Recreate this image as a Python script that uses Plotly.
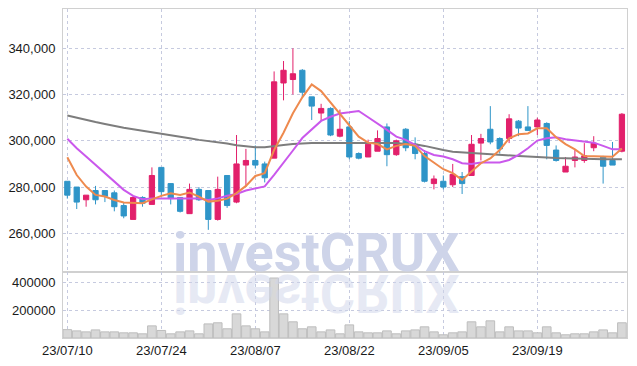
import plotly.graph_objects as go
from plotly.subplots import make_subplots

dates = [
    "23/07/10", "23/07/11", "23/07/12", "23/07/13", "23/07/14", "23/07/17", "23/07/18", "23/07/19", "23/07/20", "23/07/21",
    "23/07/24", "23/07/25", "23/07/26", "23/07/27", "23/07/28", "23/07/31", "23/08/01", "23/08/02", "23/08/03", "23/08/04",
    "23/08/07", "23/08/08", "23/08/09", "23/08/10", "23/08/11", "23/08/14", "23/08/16", "23/08/17", "23/08/18", "23/08/21",
    "23/08/22", "23/08/23", "23/08/24", "23/08/25", "23/08/28", "23/08/29", "23/08/30", "23/08/31", "23/09/01", "23/09/04",
    "23/09/05", "23/09/06", "23/09/07", "23/09/08", "23/09/11", "23/09/12", "23/09/13", "23/09/14", "23/09/15", "23/09/18",
    "23/09/19", "23/09/20", "23/09/21", "23/09/22", "23/09/25", "23/09/26", "23/09/27", "23/10/04", "23/10/05", "23/10/06",
]

opens = [282500, 280000, 274500, 278500, 278500, 277500, 272000, 266000, 275500, 272500,
         288500, 281500, 275500, 268500, 279000, 278500, 266000, 285000, 273500, 289500,
         291500, 290000, 292500, 325000, 326500, 330500, 319000, 312000, 314000, 302000,
         306000, 294500, 293000, 295500, 306000, 294000, 305000, 298500, 294500, 281500,
         282500, 281000, 284500, 285000, 299000, 305000, 301000, 301000, 308500, 306000,
         306000, 307500, 296000, 286500, 291500, 291500, 297000, 293000, 291500, 295500]
highs = [282500, 280000, 276500, 280500, 278500, 278500, 273500, 276000, 276000, 288500,
         288500, 281500, 275500, 281500, 280000, 278500, 284500, 285000, 302500, 296500,
         298000, 291000, 330000, 334500, 340000, 331000, 319000, 316000, 314500, 313500,
         308500, 295000, 300500, 304500, 307500, 300500, 305500, 301500, 296000, 285000,
         285000, 290000, 286500, 302500, 303000, 315000, 301500, 311500, 309000, 315000,
         310000, 308000, 298000, 293000, 296000, 299000, 302000, 293500, 299500, 312000]
lows = [275000, 270500, 271500, 272500, 273500, 269500, 266500, 266000, 271500, 272500,
        276000, 272500, 269000, 268500, 274000, 261500, 265500, 271000, 273000, 280000,
        288000, 282000, 292500, 317500, 320000, 318500, 309000, 308500, 302000, 301500,
        292000, 292000, 293000, 295500, 289000, 293500, 295500, 292000, 282000, 279000,
        279000, 280000, 277000, 285000, 291500, 298500, 294500, 299000, 302000, 304500,
        302500, 292000, 291000, 286500, 288500, 290500, 295500, 281500, 289500, 295000]
closes = [276500, 273500, 276500, 274500, 276000, 271500, 267500, 275500, 273000, 285000,
          278000, 275000, 269500, 279000, 274500, 266000, 279000, 272000, 290000, 291500,
          289500, 284000, 325500, 330500, 329000, 321000, 315000, 314000, 302500, 305000,
          293000, 292500, 298500, 301000, 294000, 300000, 297000, 294500, 282500, 283500,
          280000, 285500, 281500, 298500, 301000, 299500, 296500, 309500, 305500, 304500,
          309000, 298000, 291500, 289000, 293000, 293500, 299000, 289000, 289500, 311500]

ma5 = [292900, 285200, 280200, 276600, 275900, 274400, 273300, 273000, 273000, 274700,
       276200, 277300, 276600, 277600, 275900, 273700, 274100, 275000, 277400, 280500,
       284800, 286000, 296000, 303500, 311900, 318800, 324400, 321500, 316500, 311500,
       306500, 301800, 299200, 298600, 296300, 297800, 298600, 297800, 293400, 290500,
       287700, 286000, 283100, 286700, 290300, 292400, 296000, 301100, 302800, 303200,
       305400, 305400, 301500, 298600, 296300, 293400, 293200, 293100, 293100, 296700]
ma10 = [300900, 296800, 293200, 289600, 286000, 282400, 278800, 276200, 274700, 275000,
        275000, 275000, 275000, 275000, 275000, 274400, 275100, 276200, 277000, 278500,
        279300, 280300, 285300, 290400, 295800, 301200, 304700, 308600, 310400, 311800,
        312300, 312900, 310200, 307600, 304700, 301800, 300400, 298200, 295500, 293900,
        293200, 292000, 290300, 290000, 290600, 290600, 290600, 291700, 293900, 296800,
        300100, 301100, 301500, 300700, 300100, 299500, 299200, 297800, 296300, 296300]
ma_long = [310900, 309900, 309000, 308100, 307300, 306400, 305600, 305000, 304400, 303800,
           303200, 302500, 301800, 301100, 300400, 299900, 299500, 298800, 298100, 297500,
           297200, 297200, 297800, 298200, 298600, 298900, 299100, 299100, 299100, 299200,
           299200, 299200, 299200, 299000, 299000, 299000, 298600, 298500, 297800, 296800,
           296000, 295300, 295000, 294600, 294300, 294300, 294000, 293700, 293400, 293200,
           292900, 292700, 292600, 292500, 292300, 292200, 292000, 292000, 292000, 292000]

volumes = [60000, 51000, 44000, 58000, 44000, 44000, 37000, 37000, 30000, 87000,
           54000, 30000, 44000, 51000, 30000, 101000, 109000, 66000, 173000, 87000,
           66000, 44000, 430000, 173000, 116000, 66000, 80000, 44000, 58000, 30000,
           94000, 44000, 37000, 37000, 51000, 30000, 51000, 58000, 80000, 44000,
           23000, 37000, 44000, 116000, 80000, 123000, 44000, 80000, 51000, 51000,
           37000, 80000, 37000, 23000, 30000, 30000, 44000, 58000, 37000, 109000]

tick_dates = ["23/07/10", "23/07/24", "23/08/07", "23/08/22", "23/09/05", "23/09/19"]
price_ticks = [260000, 280000, 300000, 320000, 340000]
volume_ticks = [200000, 400000]
watermark = "investCRUX"

RED = "#E2206B"
BLUE = "#2F95C8"
GRID = "#C6CADF"
FONT = "Liberation Sans, Arial, sans-serif"

fig = make_subplots(rows=2, cols=1, shared_xaxes=True, vertical_spacing=0,
                    row_heights=[0.7994, 0.2006])

fig.add_trace(go.Candlestick(
    x=dates, open=opens, high=highs, low=lows, close=closes,
    increasing=dict(line=dict(color=RED, width=1), fillcolor=RED),
    decreasing=dict(line=dict(color=BLUE, width=1), fillcolor=BLUE),
    whiskerwidth=0, hoverinfo="skip"), row=1, col=1)

fig.add_trace(go.Scatter(x=dates, y=ma_long, mode="lines",
                         line=dict(color="#7D7D7D", width=2)), row=1, col=1)
fig.add_trace(go.Scatter(x=dates, y=ma10, mode="lines",
                         line=dict(color="#CA58EC", width=2)), row=1, col=1)
fig.add_trace(go.Scatter(x=dates, y=ma5, mode="lines",
                         line=dict(color="#EE8A4E", width=2)), row=1, col=1)

fig.add_trace(go.Bar(x=dates, y=volumes, marker=dict(color="#D8D8D8",
                     line=dict(color="#BDBDBD", width=1))), row=2, col=1)

axis_common = dict(showline=True, linecolor="#D0D0D0", linewidth=1, mirror=True,
                   showgrid=True, gridcolor=GRID, griddash="dot", gridwidth=1,
                   zeroline=False, automargin=False,
                   tickfont=dict(family=FONT, size=13, color="#1A1A1A"))

fig.update_xaxes(type="category", range=[-0.46, 59.54], tickmode="array",
                 tickvals=tick_dates, ticktext=tick_dates, ticks="",
                 rangeslider=dict(visible=False), **axis_common)
fig.update_xaxes(showticklabels=False, row=1, col=1)
fig.update_yaxes(range=[243265, 356994], tickmode="array", tickvals=price_ticks,
                 tickformat=",d", ticks="", ticklabelstandoff=4, row=1, col=1, **axis_common)
fig.update_yaxes(range=[0, 473000], tickmode="array", tickvals=volume_ticks,
                 tickformat="d", ticks="", ticklabelstandoff=4, row=2, col=1, **axis_common)

fig.add_annotation(text="<b>" + watermark + "</b>", xref="paper", yref="paper",
                   x=0.45, y=0.261, xanchor="center", yanchor="middle", showarrow=False,
                   font=dict(family="Roboto", size=54, color="#CED4E9"))
fig.add_annotation(text="<b>" + watermark + "</b>", xref="paper", yref="paper",
                   x=0.45, y=0.135, xanchor="center", yanchor="middle", showarrow=False,
                   font=dict(family="Roboto", size=54, color="rgba(206,212,233,0.5)"))

fig.update_layout(width=637, height=366, margin=dict(l=63, r=10, t=9, b=28, autoexpand=False),
                  plot_bgcolor="white", paper_bgcolor="white", showlegend=False,
                  bargap=0.08, boxgap=0.2, hovermode=False)

post = """
document.body.style.margin = '0';
document.body.style.padding = '0';
var gd = document.getElementById('{plot_id}');
var anns = gd.querySelectorAll('g.annotation');
anns.forEach(function(a){
  if (a.getAttribute('data-index') === '1') {
    a.style.transformBox = 'fill-box';
    a.style.transformOrigin = 'center';
    a.style.transform = 'scaleY(-1)';
  }
});
"""
fig.write_html("out.html", post_script=post, config={"displayModeBar": False})
